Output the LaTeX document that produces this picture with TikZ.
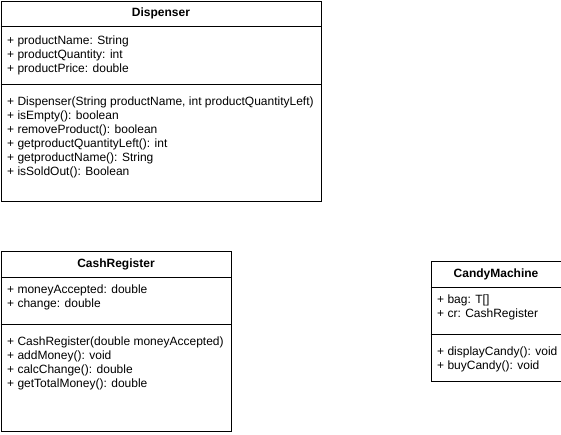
\documentclass[tikz,border=0pt]{standalone}
\usepackage{fontspec}
\setmainfont{Liberation Sans}
\usetikzlibrary{positioning}

\begin{document}
\begin{tikzpicture}[x=1pt, y=-1pt,
                    classbox/.style = {
                      draw, line width=1pt,
                      anchor=north west, inner sep=0pt
                    },
                    classname/.style = {
                      font=\fontsize{12}{14}\selectfont\bfseries,
                      inner sep=0pt
                    },
                    member/.style = {
                      anchor=base west, inner sep=0pt,
                      font=\fontsize{12}{14}\selectfont
                    },
                    divider/.style = {line width=1pt}]
    \useasboundingbox (0,0) rectangle (561,434);

    % Dispenser
    \node[classbox, minimum width=320pt, minimum height=200pt] (disp) at (0.5,0.5) {};
    \node[classname] (dispname) at ([yshift=-13pt]disp.north) {Dispenser};
    \draw[divider] ([yshift=-26pt]disp.north west) -- ([yshift=-26pt]disp.north east);
    \draw[divider] ([yshift=-84pt]disp.north west) -- ([yshift=-84pt]disp.north east);
    \foreach \txt [count=\i from 0] in {+ productName: String, + productQuantity: int,
        + productPrice: double}
      \node[member] at (7, 44+14*\i) {\txt};
    \foreach \txt [count=\i from 0] in {{+ Dispenser(String productName, int productQuantityLeft)},
        + isEmpty(): boolean, + removeProduct(): boolean, + getproductQuantityLeft(): int,
        + getproductName(): String, + isSoldOut(): Boolean}
      \node[member] at (7, 105+14*\i) {\txt};

    % CashRegister
    \node[classbox, minimum width=230pt, minimum height=180pt] (cash) at (0.5,250.5) {};
    \node[classname] (cashname) at ([yshift=-13.5pt]cash.north) {CashRegister};
    \draw[divider] ([yshift=-27pt]cash.north west) -- ([yshift=-27pt]cash.north east);
    \draw[divider] ([yshift=-74pt]cash.north west) -- ([yshift=-74pt]cash.north east);
    \foreach \txt [count=\i from 0] in {+ moneyAccepted: double, + change: double}
      \node[member] at (7, 293+14*\i) {\txt};
    \foreach \txt [count=\i from 0] in {+ CashRegister(double moneyAccepted),
        + addMoney(): void, + calcChange(): double, + getTotalMoney(): double}
      \node[member] at (7, 345+14*\i) {\txt};

    % CandyMachine
    \node[classbox, minimum width=130pt, minimum height=120pt] (candy) at (430.5,260.5) {};
    \node[classname] (candyname) at ([yshift=-13.5pt]candy.north) {CandyMachine};
    \draw[divider] ([yshift=-27pt]candy.north west) -- ([yshift=-27pt]candy.north east);
    \draw[divider] ([yshift=-74pt]candy.north west) -- ([yshift=-74pt]candy.north east);
    \foreach \txt [count=\i from 0] in {+ bag: T[], + cr: CashRegister}
      \node[member] at (437, 303+14*\i) {\txt};
    \foreach \txt [count=\i from 0] in {+ displayCandy(): void, + buyCandy(): void}
      \node[member] at (437, 355+14*\i) {\txt};
  \end{tikzpicture}
\end{document}
